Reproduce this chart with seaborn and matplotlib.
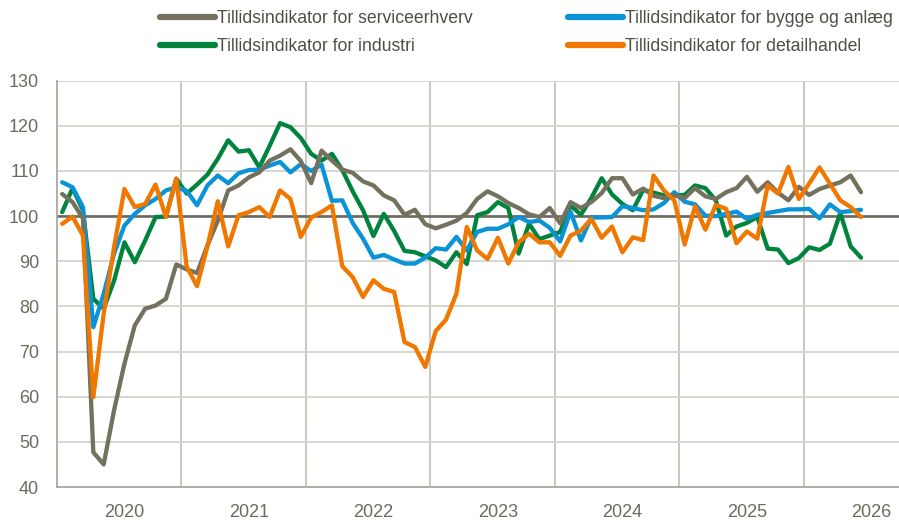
import pandas as pd
import numpy as np
import seaborn as sns
import matplotlib.pyplot as plt
from matplotlib.lines import Line2D

# -----------------------------------------------
# Data: monthly indicators, Jan 2020 - Jun 2026
# -----------------------------------------------
service = [104.9, 103.1, 99.5, 47.7, 45.0, 57.0, 67.3, 75.8, 79.5, 80.2, 81.7, 89.3,
           88.2, 87.4, 93.5, 99.0, 105.7, 106.8, 108.6, 109.7, 112.3, 113.4, 114.8, 112.2,
           107.3, 114.5, 112.3, 110.3, 109.6, 107.7, 106.8, 104.6, 103.5, 100.3, 101.4, 98.2,
           97.3, 98.1, 99.0, 100.7, 103.8, 105.5, 104.4, 102.9, 101.8, 100.4, 99.8, 101.8,
           98.4, 103.1, 101.8, 103.1, 105.1, 108.4, 108.4, 104.8, 106.1, 104.5, 104.0, 104.6,
           104.0, 106.2, 104.4, 103.8, 105.3, 106.2, 108.7, 105.4, 107.5, 105.2, 103.5, 106.5,
           104.7, 106.0, 106.8, 107.5, 109.0, 105.3]

bygge = [107.5, 106.4, 102.0, 75.4, 82.8, 91.7, 97.9, 100.5, 102.4, 103.8, 105.7, 106.4,
         105.6, 102.4, 106.8, 109.0, 107.3, 109.5, 110.2, 110.3, 111.2, 112.0, 109.7, 111.5,
         110.0, 111.4, 103.4, 103.5, 98.5, 95.0, 90.8, 91.4, 90.4, 89.5, 89.5, 90.8,
         92.9, 92.6, 95.4, 92.4, 96.5, 97.2, 97.2, 98.2, 99.8, 98.7, 99.0, 97.4,
         94.4, 101.0, 94.6, 99.7, 99.7, 99.8, 102.2, 101.8, 101.3, 101.5, 102.9, 105.3,
         103.2, 102.6, 100.1, 100.0, 100.5, 101.0, 99.4, 100.3, 100.7, 101.1, 101.5, 101.5,
         101.6, 99.5, 102.6, 100.9, 101.1, 101.4]

industri = [100.9, 106.2, 101.3, 81.7, 79.5, 85.7, 94.2, 89.8, 94.6, 99.8, 99.9, 108.3,
            105.0, 107.0, 109.2, 112.7, 116.8, 114.3, 114.6, 110.8, 115.6, 120.6, 119.7, 117.3,
            113.8, 112.3, 113.8, 110.2, 105.5, 101.3, 95.6, 100.5, 96.7, 92.3, 92.0, 91.1,
            90.2, 88.7, 92.0, 89.4, 100.2, 100.9, 103.1, 101.8, 91.7, 98.3, 94.9, 95.7,
            96.5, 102.4, 100.3, 104.0, 108.4, 104.8, 102.7, 101.3, 105.8, 105.2, 104.6, 104.6,
            104.7, 106.8, 106.2, 103.5, 95.7, 97.7, 98.5, 99.8, 92.8, 92.6, 89.6, 90.7,
            93.1, 92.5, 93.9, 100.7, 93.3, 90.8]

detail = [98.3, 99.9, 95.7, 59.9, 78.4, 93.1, 106.0, 102.0, 102.7, 107.0, 99.8, 108.3,
          88.8, 84.5, 93.3, 103.3, 93.3, 100.2, 100.9, 102.0, 99.8, 105.7, 103.8, 95.4,
          99.7, 100.9, 102.4, 88.9, 86.5, 82.1, 85.8, 83.9, 83.2, 72.1, 71.0, 66.6,
          74.5, 77.1, 82.8, 97.6, 92.4, 90.5, 95.2, 89.5, 94.2, 96.1, 94.2, 94.2,
          91.2, 95.7, 96.8, 99.4, 95.2, 97.7, 92.0, 95.3, 94.7, 109.0, 105.7, 103.5,
          93.7, 102.2, 97.0, 102.5, 101.6, 94.0, 96.6, 95.0, 106.8, 105.0, 110.9, 103.8,
          107.2, 110.8, 107.2, 103.5, 102.0, 99.8]

series_names = ["Tillidsindikator for serviceerhverv", "Tillidsindikator for bygge og anlæg",
                "Tillidsindikator for industri", "Tillidsindikator for detailhandel"]
years = ["2020", "2021", "2022", "2023", "2024", "2025", "2026"]
yticks = [40, 50, 60, 70, 80, 90, 100, 110, 120, 130]

colors = {series_names[0]: "#74725f", series_names[1]: "#0b93d8",
          series_names[2]: "#00843d", series_names[3]: "#f07800"}

# long format for seaborn
month = np.arange(len(service))
df = pd.DataFrame({"month": np.tile(month, 4),
                   "value": service + bygge + industri + detail,
                   "series": np.repeat(series_names, len(month))})

# -----------------------------------------------
# Plot
# -----------------------------------------------
sns.set_style("white")
plt.rcParams["font.family"] = ["Liberation Sans", "DejaVu Sans"]

fig = plt.figure(figsize=(8.99, 5.22), dpi=100)
ax = fig.add_axes([57 / 899, 35 / 522, 842 / 899, 406.3 / 522])

# series drawn in order: industri, bygge, service, detail (detail on top)
draw_order = [series_names[2], series_names[1], series_names[0], series_names[3]]
for name in draw_order:
    sns.lineplot(data=df[df["series"] == name], x="month", y="value", color=colors[name],
                 linewidth=3.1, ax=ax, legend=False, zorder=3)

ax.set_xlim(-0.5, 80.66)
ax.set_ylim(40, 130)

# year boundaries as major ticks (gridlines), year labels as minor ticks
ax.set_xticks(np.arange(11.5, 80, 12))
ax.set_xticklabels([])
ax.set_xticks(np.arange(6, 81, 12), minor=True)
ax.set_xticklabels(years, minor=True)
ax.set_yticks(yticks)
ax.tick_params(axis="x", which="both", length=0, pad=12, labelsize=13, labelcolor="#6b6b60")
ax.tick_params(axis="y", length=0, pad=13, labelsize=13, labelcolor="#6b6b60")

ax.grid(True, axis="y", color="#d3d3ca", linewidth=1.3)
ax.grid(True, axis="x", color="#c4c4ba", linewidth=1.3)
ax.axhline(100, color="#6a6a5e", linewidth=1.9, zorder=2)
ax.set_xlabel("")
ax.set_ylabel("")

for side in ["top", "right"]:
    ax.spines[side].set_visible(False)
for side in ["left", "bottom"]:
    ax.spines[side].set_color("#a9a99e")
    ax.spines[side].set_linewidth(1.3)

# legend: two single-column legends placed like the original
def handle(name):
    return Line2D([0], [0], color=colors[name], linewidth=4.5)

leg_kw = dict(frameon=False, fontsize=12.7, handlelength=3.1, handletextpad=0.12,
              borderpad=0, borderaxespad=0, labelspacing=0.62, labelcolor="#4f4f47")
fig.legend([handle(series_names[0]), handle(series_names[2])],
           [series_names[0], series_names[2]], loc="upper left",
           bbox_to_anchor=(160 / 899, 1 - 10 / 522), **leg_kw)
fig.legend([handle(series_names[1]), handle(series_names[3])],
           [series_names[1], series_names[3]], loc="upper left",
           bbox_to_anchor=(568 / 899, 1 - 10 / 522), **leg_kw)

fig.savefig("out.png", dpi=100)
plt.close()
